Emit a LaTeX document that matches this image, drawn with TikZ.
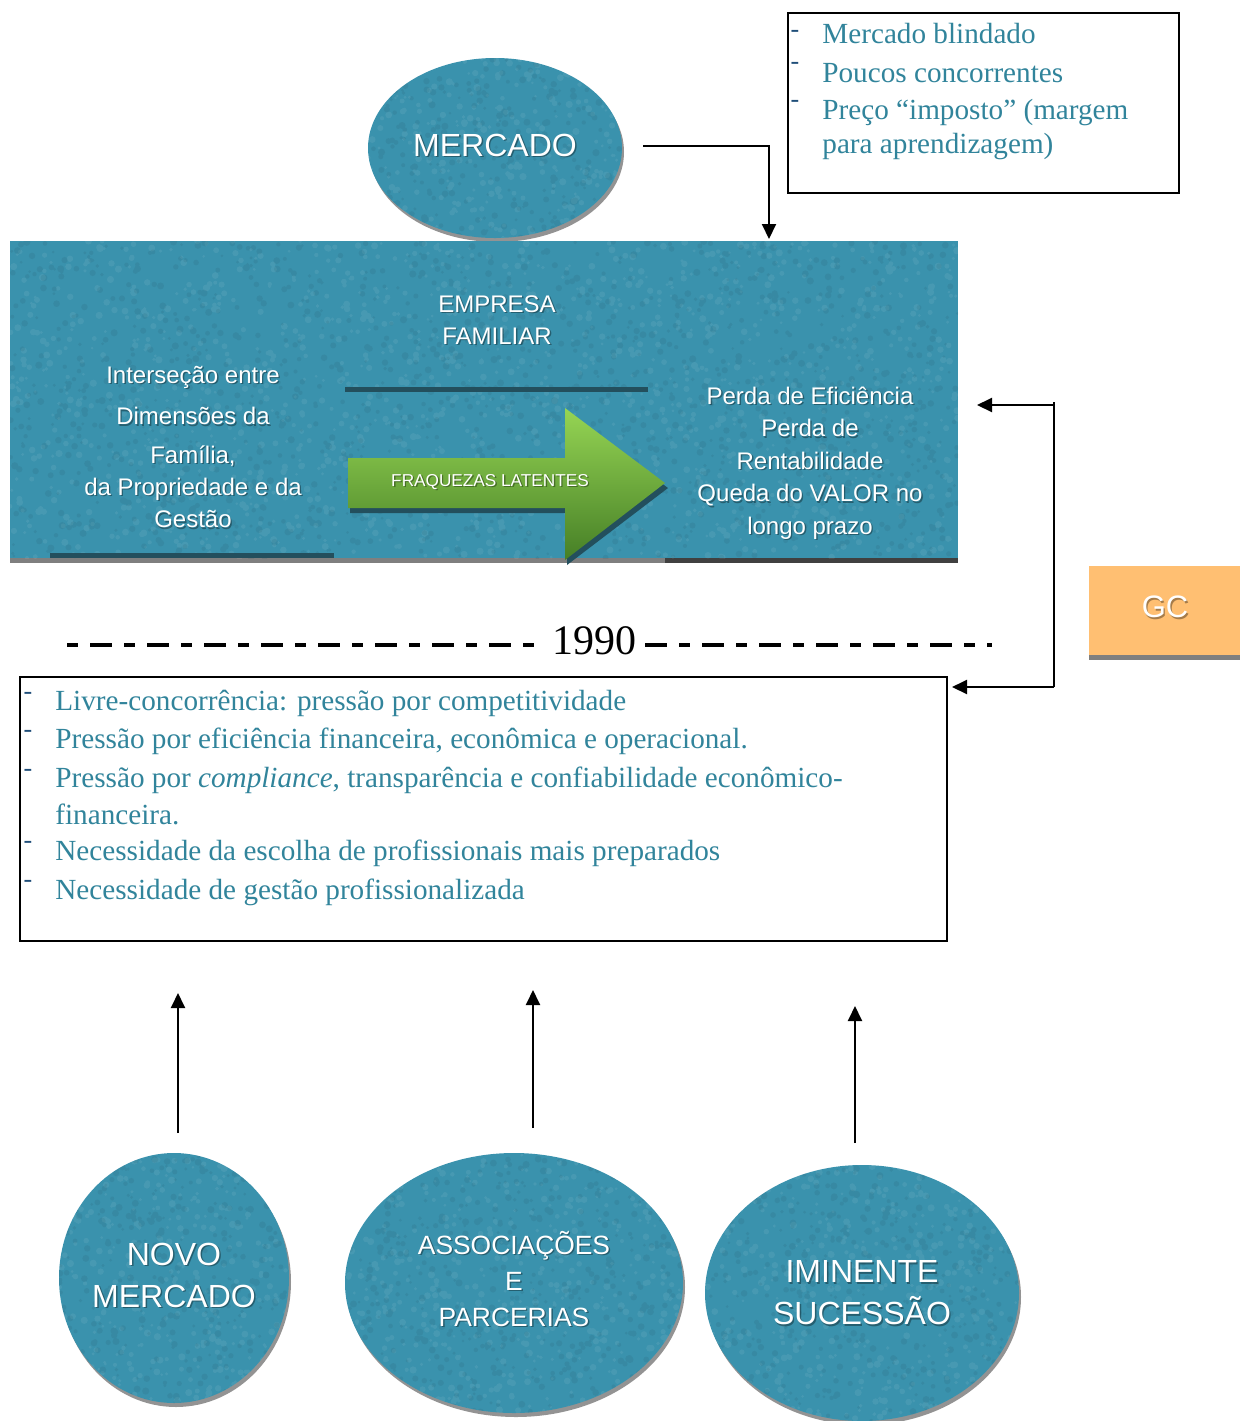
\documentclass[tikz,border=0pt]{standalone}
\usepackage{fontspec}
\setmainfont{Liberation Serif}
\setsansfont{Liberation Sans}
\usetikzlibrary{shapes.geometric,arrows.meta,shadows}
\definecolor{tealfill}{HTML}{3A92AD}
\definecolor{tealdark}{HTML}{234F5D}
\definecolor{listblue}{HTML}{31849B}
\definecolor{dashblue}{HTML}{1F4E79}
\definecolor{gcorange}{HTML}{FFBF72}
\definecolor{greenlight}{HTML}{96D554}
\definecolor{greendark}{HTML}{467F26}
\definecolor{edgegray}{HTML}{7F7F7F}
% grainy felt texture inside the current clip region
\newcommand\feltgrain[5]{% x0, y0, width, height, count
  \fill[white, opacity=0.07] \foreach \i in {1,...,#5}{
    ({#1+#3*rnd},{#2+#4*rnd}) circle[radius={0.7pt+1.1pt*rnd}] };
  \fill[tealdark, opacity=0.12] \foreach \i in {1,...,#5}{
    ({#1+#3*rnd},{#2+#4*rnd}) circle[radius={0.7pt+1.1pt*rnd}] };
}
% white label with a soft dark shadow: style, name, position, text
\newcommand\shadedlabel[4]{%
  \node[#1, text=black, opacity=0.35, xshift=0.7pt, yshift=-0.7pt] at #3 {#4};
  \node[#1] (#2) at #3 {#4};}
\begin{document}
\begin{tikzpicture}[x=0.5pt,y=-0.5pt,
  blob/.style={ellipse, fill=tealfill, inner sep=0pt,
    drop shadow={shadow xshift=1pt, shadow yshift=-2pt, fill=gray!85, opacity=1}},
  blobtext/.style={text=white, font=\sffamily\fontsize{16}{21}\selectfont, align=center, inner sep=0pt},
  wtext/.style={text=white, font=\sffamily\fontsize{12}{16.2}\selectfont, align=center, inner sep=0pt},
  item/.style={anchor=west, text=listblue, font=\fontsize{14.6}{17}\selectfont, inner sep=0pt},
  bullet/.style={text=dashblue, font=\fontsize{13}{13}\selectfont, inner sep=0pt},
  frame/.style={draw=black, line width=1pt, inner sep=0pt},
  conn/.style={line width=1pt, -{Triangle[length=7.5pt,width=7pt]}},
  eraleft/.style={line width=1.6pt, dash pattern=on 5.5pt off 6pt on 11pt off 6pt},
  eraright/.style={line width=1.6pt, dash pattern=on 11pt off 6pt on 5.5pt off 6pt},
]
\useasboundingbox (0,0) rectangle (1245,1421);
\pgfmathsetseed{42}

% ---------- MERCADO ----------
\node[blob, minimum width=127pt, minimum height=90pt] (merc) at (495,148) {};
\begin{scope}
  \path[clip] (merc.center) ellipse [x radius=63.5pt, y radius=45pt];
  \feltgrain{368}{58}{254}{180}{300}
\end{scope}
\shadedlabel{blobtext}{mercT}{(495,145)}{MERCADO}

% ---------- market features ----------
\node[frame, minimum width=195.5pt, minimum height=90pt] (feat) at (983.5,103) {};
\node[bullet] (fb1) at (795,34) {-};
\node[item] (f1) at (822,34) {Mercado blindado};
\node[bullet] (fb2) at (795,66) {-};
\node[item] (f2) at (822,73) {Poucos concorrentes};
\node[bullet] (fb3) at (795,104) {-};
\node[item] (f3) at (822,113) {Preço “imposto” (margem};
\node[item] (f4) at (822,147) {para aprendizagem)};

% ---------- family business block ----------
\node[fill=tealfill, inner sep=0pt, minimum width=474pt, minimum height=158.5pt] (emp) at (484,399.5) {};
\fill[edgegray] (10,558) rectangle (665,563);
\fill[black!75] (665,558) rectangle (958,563);
\begin{scope}
  \clip (10,241) rectangle (958,558);
  \feltgrain{10}{241}{948}{317}{1500}
\end{scope}
\fill[tealdark] (345,387) rectangle (648,392);
\fill[tealdark] (50,553) rectangle (334,558);

% green arrow with its shadow
\fill[tealdark] (350,463) -- (567,463) -- (567,413) -- (668,488) -- (567,565) -- (567,513) -- (350,513) -- cycle;
\shade[top color=greenlight, bottom color=greendark]
  (348,458) -- (565,458) -- (565,408) -- (665,483) -- (565,560) -- (565,508) -- (348,508) -- cycle;
\shadedlabel{text=white, font=\sffamily\fontsize{8.6}{10}\selectfont, inner sep=0pt}{fraq}{(490,482)}{FRAQUEZAS LATENTES}

\shadedlabel{wtext}{empT}{(497,320)}{EMPRESA\\FAMILIAR}
\shadedlabel{wtext}{dims}{(193,447)}{Interseção entre\\[4.5pt]Dimensões da\\[3pt]Família,\\da Propriedade e da\\Gestão}
\shadedlabel{wtext}{loss}{(810,463)}{Perda de Eficiência\\Perda de\\Rentabilidade\\Queda do VALOR no\\longo prazo}

\coordinate (m1) at (643,146);
\coordinate (m2) at (769,146);
\coordinate (m3) at (769,239);
\draw[conn] (m1) -- (m2) -- (m3);

% ---------- GC ----------
\node[fill=gcorange, inner sep=0pt, minimum width=75.5pt, minimum height=44.5pt] (gc) at (1164.5,610.5) {};
\fill[edgegray] (1089,655) rectangle (1240,660);
\shadedlabel{text=white, font=\sffamily\fontsize{15.5}{18}\selectfont, inner sep=0pt}{gcT}{(1165,607)}{GC}

\coordinate (gTop) at (1054,402);
\coordinate (gA) at (1054,405);
\coordinate (gB) at (1054,687);
\coordinate (gEmp) at (977,405);
\coordinate (gBox) at (952,687);
\draw[line width=1pt] (gTop) -- (gB);
\draw[conn] (gA) -- (gEmp);
\draw[conn] (gB) -- (gBox);

% ---------- 1990 ----------
\node[font=\fontsize{21}{24}\selectfont, inner sep=0pt] (year) at (594,641) {1990};
\coordinate (d1) at (67,645);
\coordinate (d2) at (540,645);
\coordinate (d3) at (645,645);
\coordinate (d4) at (992,645);
\draw[eraleft] (d1) -- (d2);
\draw[eraright] (d3) -- (d4);

% ---------- pressures after 1990 ----------
\node[frame, minimum width=463.5pt, minimum height=132pt] (press) at (483.5,809) {};
\node[bullet] (pb1) at (28,696) {-};
\node[item] (p1) at (55,703) {Livre-concorrência: pressão por competitividade};
\node[bullet] (pb2) at (28,734) {-};
\node[item] (p2) at (55,741) {Pressão por eficiência financeira, econômica e operacional.};
\node[bullet] (pb3) at (28,773) {-};
\node[item] (p3) at (55,780) {Pressão por \textit{compliance}, transparência e confiabilidade econômico-};
\node[item] (p4) at (55,814) {financeira.};
\node[bullet] (pb5) at (28,845) {-};
\node[item] (p5) at (55,853) {Necessidade da escolha de profissionais mais preparados};
\node[bullet] (pb6) at (28,884) {-};
\node[item] (p6) at (55,892) {Necessidade de gestão profissionalizada};

% ---------- drivers ----------
\node[blob, minimum width=115pt, minimum height=125pt] (novo) at (174,1278) {};
\node[blob, minimum width=169pt, minimum height=130pt] (assoc) at (514,1283) {};
\node[blob, minimum width=157pt, minimum height=128pt] (suc) at (862,1293) {};
\begin{scope}
  \path[clip] (novo.center) ellipse [x radius=57.5pt, y radius=62.5pt];
  \feltgrain{59}{1153}{230}{250}{350}
\end{scope}
\begin{scope}
  \path[clip] (assoc.center) ellipse [x radius=84.5pt, y radius=65pt];
  \feltgrain{345}{1153}{338}{260}{520}
\end{scope}
\begin{scope}
  \path[clip] (suc.center) ellipse [x radius=78.5pt, y radius=64pt];
  \feltgrain{705}{1165}{314}{256}{470}
\end{scope}
\shadedlabel{blobtext}{novoT}{(174,1275)}{NOVO\\MERCADO}
\shadedlabel{blobtext, font=\sffamily\fontsize{13.2}{18}\selectfont}{assocT}{(514,1279)}{ASSOCIAÇÕES\\E\\PARCERIAS}
\shadedlabel{blobtext}{sucT}{(862,1293)}{IMINENTE\\SUCESSÃO}

\coordinate (u1) at (178,1133);
\coordinate (v1) at (178,993);
\coordinate (u2) at (533,1128);
\coordinate (v2) at (533,990);
\coordinate (u3) at (855,1143);
\coordinate (v3) at (855,1006);
\draw[conn] (u1) -- (v1);
\draw[conn] (u2) -- (v2);
\draw[conn] (u3) -- (v3);
\end{tikzpicture}
\end{document}
